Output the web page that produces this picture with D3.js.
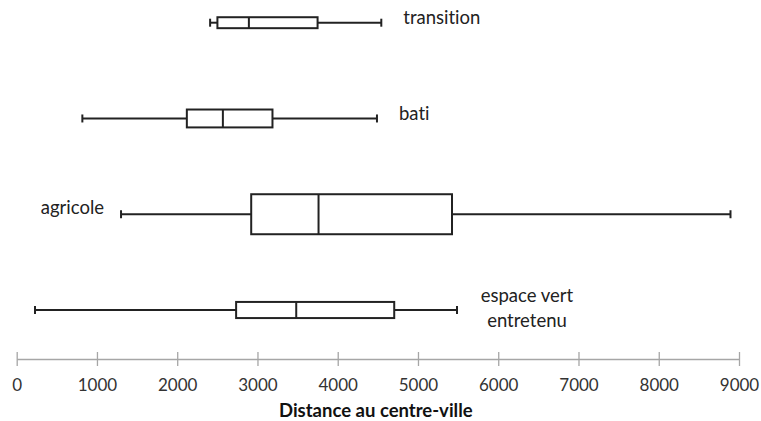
<!DOCTYPE html>
<html><head><meta charset="utf-8">
<script src="https://cdn.jsdelivr.net/npm/d3@7"></script>
<style>body{margin:0;background:#fff}svg{display:block}text{font-variant-ligatures:none;font-feature-settings:"liga" 0}</style>
</head><body>
<svg id="c" width="761" height="421"></svg>
<script>
const categories = ["transition", "bati", "agricole", "espace vert entretenu"];
const labelLines = [["transition"], ["bati"], ["agricole"], ["espace vert", "entretenu"]];
const whiskerLow = [2410, 818, 1300, 228];
const q1 = [2501, 2120, 2922, 2734];
const median = [2893, 2569, 3761, 3483];
const q3 = [3749, 3187, 5424, 4704];
const whiskerHigh = [4543, 4489, 8894, 5486];
const sampleSize = [12, 32, 160, 26];
const tickValues = [0, 1000, 2000, 3000, 4000, 5000, 6000, 7000, 8000, 9000];
const xTitle = "Distance au centre-ville";

const svg = d3.select("#c");
const font = "Lato, 'Open Sans', sans-serif";
const x = d3.scaleLinear().domain([0, 9000]).range([16.7, 739]);
const y = d3.scalePoint().domain(categories).range([22.7, 310]);
const h = d3.scaleSqrt().domain([0, 160]).range([0, 40]);
const ink = "#222";

const data = categories.map((c, i) => ({
  c, i, lo: whiskerLow[i], q1: q1[i], med: median[i], q3: q3[i], hi: whiskerHigh[i], n: sampleSize[i]
}));

const g = svg.append("g");
data.forEach(d => {
  const cy = y(d.c), bh = h(d.n);
  const gg = g.append("g");
  gg.append("line").attr("x1", x(d.lo)).attr("x2", x(d.q1)).attr("y1", cy).attr("y2", cy)
    .attr("stroke", ink).attr("stroke-width", 2);
  gg.append("line").attr("x1", x(d.q3)).attr("x2", x(d.hi)).attr("y1", cy).attr("y2", cy)
    .attr("stroke", ink).attr("stroke-width", 2);
  [d.lo, d.hi].forEach(v => gg.append("line").attr("x1", x(v)).attr("x2", x(v))
    .attr("y1", cy - 4).attr("y2", cy + 4).attr("stroke", ink).attr("stroke-width", 2));
  gg.append("rect").attr("x", x(d.q1)).attr("y", cy - bh / 2).attr("width", x(d.q3) - x(d.q1))
    .attr("height", bh).attr("fill", "#fff").attr("stroke", ink).attr("stroke-width", 2);
  gg.append("line").attr("x1", x(d.med)).attr("x2", x(d.med)).attr("y1", cy - bh / 2).attr("y2", cy + bh / 2)
    .attr("stroke", ink).attr("stroke-width", 2);
});

// category labels
data.forEach(d => {
  const cy = y(d.c);
  const lines = labelLines[d.i];
  let tx, anchor, ty;
  if (d.c === "agricole") { tx = x(d.lo) - 17; anchor = "end"; ty = cy - 7; }
  else if (lines.length > 1) { tx = x(d.hi) + 70; anchor = "middle"; ty = cy - 14; }
  else { tx = x(d.hi) + 22; anchor = "start"; ty = cy - 5; }
  const t = svg.append("text").attr("font-family", font).attr("font-size", 18.5)
    .attr("fill", "#222").attr("text-anchor", anchor);
  lines.forEach((l, k) => t.append("tspan").attr("x", tx).attr("y", ty + k * 25).attr("dy", "0.35em").text(l));
});

// axis
const axisY = 359;
const ax = svg.append("g").attr("transform", `translate(0,${axisY})`)
  .call(d3.axisBottom(x).tickValues(tickValues).tickFormat(d3.format("d")).tickSizeOuter(0).tickSizeInner(7).tickPadding(13));
ax.select(".domain").attr("stroke", "#a6a6a6").attr("stroke-width", 1.3);
ax.selectAll(".tick line").attr("stroke", "#a6a6a6").attr("stroke-width", 1.3).attr("y1", -7).attr("y2", 7);
ax.selectAll(".tick text").attr("font-family", font).attr("font-size", 17).attr("fill", "#333");

svg.append("text").attr("x", (x(0) + x(9000)) / 2 - 2).attr("y", 411).attr("dy", "0.35em")
  .attr("text-anchor", "middle").attr("font-family", font).attr("font-weight", "bold")
  .attr("font-size", 18.5).attr("fill", "#111").text(xTitle);
</script>
</body></html>
